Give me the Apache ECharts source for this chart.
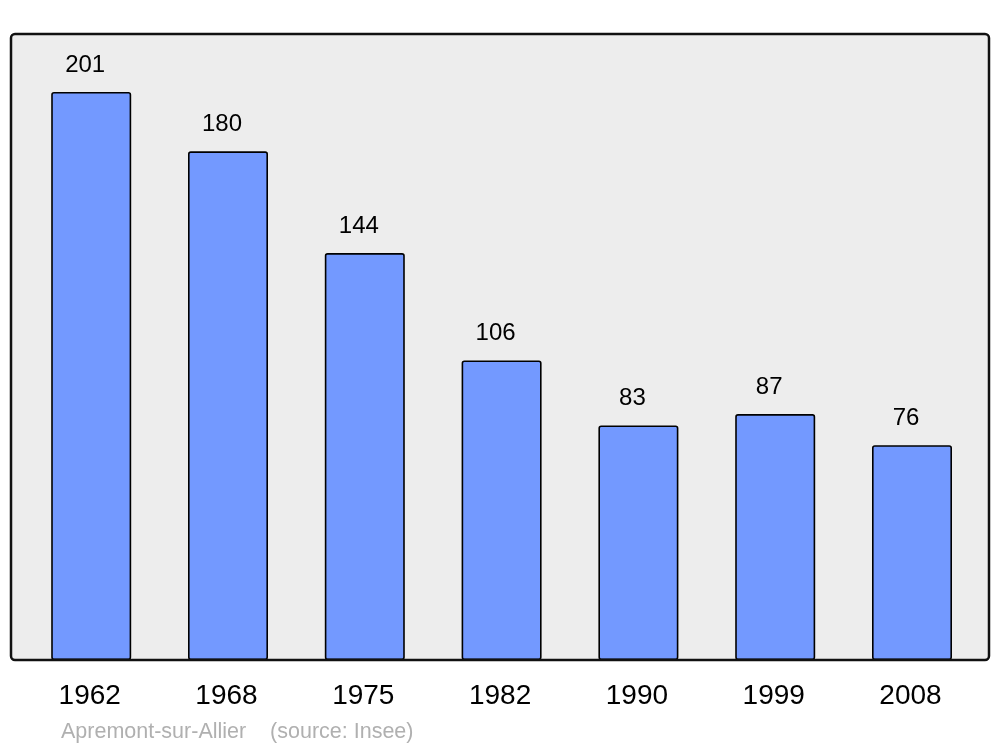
<!DOCTYPE html>
<html><head><meta charset="utf-8">
<script src="https://cdn.jsdelivr.net/npm/echarts@6/dist/echarts.min.js"></script>
<style>html,body{margin:0;padding:0;background:#fff}#c{width:1000px;height:747px}</style>
</head><body><div id="c"></div>
<script>
const years = ['1962','1968','1975','1982','1990','1999','2008'];
const population = [201, 180, 144, 106, 83, 87, 76];
const footer = 'Apremont-sur-Allier    (source: Insee)';

const chart = echarts.init(document.getElementById('c'));
chart.setOption({
  animation: false,
  backgroundColor: '#ffffff',
  textStyle: { fontFamily: 'Liberation Sans, Arial, sans-serif' },
  title: {
    text: footer, left: 56, top: 716,
    textStyle: { color: '#b0b0b0', fontSize: 21.5, fontWeight: 'normal', fontFamily: 'Liberation Sans, Arial, sans-serif' }
  },
  graphic: [
    { type: 'rect', z: -10, shape: { x: 11, y: 34, width: 978, height: 626, r: 4 },
      style: { fill: '#ededed', stroke: null } },
    { type: 'rect', z: 100, silent: true, shape: { x: 11, y: 34, width: 978, height: 626, r: 4 },
      style: { fill: null, stroke: '#111111', lineWidth: 2.5 } }
  ],
  grid: { left: 22.8, right: 19.6, top: 34, bottom: 87, containLabel: false },
  xAxis: {
    type: 'category', data: years,
    axisLine: { show: false }, axisTick: { show: false },
    axisLabel: { color: '#000', fontSize: 28, margin: 22, padding: [0, 3, 0, 0], fontFamily: 'Liberation Sans, Arial, sans-serif' }
  },
  yAxis: {
    type: 'value', min: 0, max: 221.5,
    show: false, splitLine: { show: false }
  },
  series: [{
    type: 'bar', data: population, barWidth: 80,
    itemStyle: { color: '#7399ff', borderColor: '#000', borderWidth: 1.6, borderRadius: 2 },
    label: { show: true, position: 'top', distance: 15, offset: [-6, 0], color: '#000', fontSize: 24,
      fontFamily: 'Liberation Sans, Arial, sans-serif' }
  }]
});
</script></body></html>
